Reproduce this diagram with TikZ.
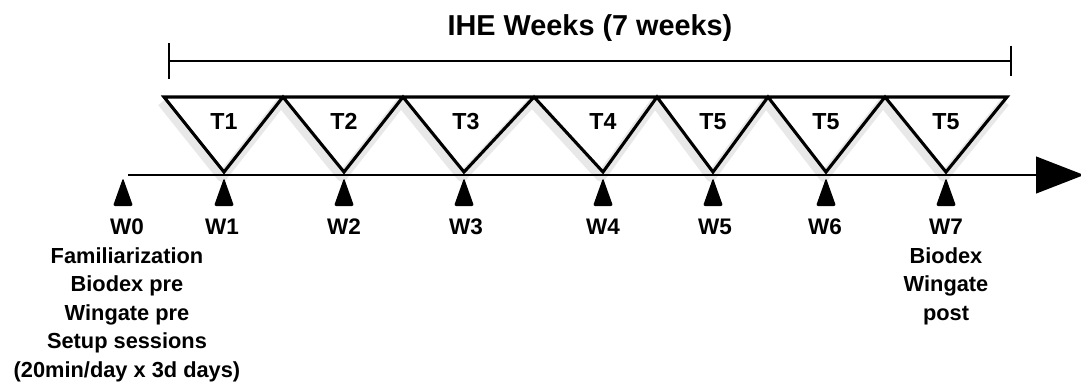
\documentclass[tikz,border=0pt]{standalone}
\usepackage{fontspec}
\setmainfont{Liberation Sans}
\usetikzlibrary{positioning}
\usetikzlibrary{arrows.meta}

\tikzset{
  heading/.style={font=\bfseries\fontsize{20.5}{24}\selectfont, inner sep=0pt},
  tlabel/.style={font=\bfseries\fontsize{16.5}{20}\selectfont, inner sep=0pt, anchor=base},
  wlabel/.style={font=\bfseries\fontsize{16}{20}\selectfont, inner sep=0pt, anchor=base},
  notes/.style={font=\bfseries\fontsize{15.5}{20.3}\selectfont, inner sep=0pt, align=center},
  zig/.style={line width=2.2pt, line join=miter},
  zigshadow/.style={line width=7pt, gray!18, line join=round},
  marker/.style={fill=black, rounded corners=1.5},
}

\begin{document}
\begin{tikzpicture}[x=0.025cm, y=-0.025cm]
\useasboundingbox (0,0) rectangle (1081,383);

%---------------------------------------
% Shared values
%---------------------------------------
\def\Ytop{97}     % top edge of the training triangles
\def\Ybot{172}    % lower vertices
\def\Yline{175}   % time axis
\def\Ybar{61}     % IHE bracket

%====================================================
% IHE bracket and heading
%====================================================
\node[heading] (title) at (590,28) {IHE Weeks (7 weeks)};

\coordinate (barL) at (168,\Ybar);
\coordinate (barR) at (1012,\Ybar);
\draw[line width=1.4pt, {Bar[width=25pt]}-{Bar[width=22pt]}] (barL) -- (barR);

%====================================================
% Training blocks T1 ... T5
%====================================================
% soft shadow of the scan, below the zig-zag
\begin{scope}[shift={(-2,5)}]
\draw[zigshadow]
  (164,\Ytop) -- (224,\Ybot) -- (283,\Ytop) -- (344,\Ybot) -- (403,\Ytop)
  -- (464,\Ybot) -- (534,\Ytop) -- (603,\Ybot) -- (657,\Ytop) -- (713,\Ybot)
  -- (768,\Ytop) -- (826,\Ybot) -- (885,\Ytop) -- (946,\Ybot) -- (1007,\Ytop);
\end{scope}

\draw[zig]
  (164,\Ytop) -- (224,\Ybot) -- (283,\Ytop) -- (344,\Ybot) -- (403,\Ytop)
  -- (464,\Ybot) -- (534,\Ytop) -- (603,\Ybot) -- (657,\Ytop) -- (713,\Ybot)
  -- (768,\Ytop) -- (826,\Ybot) -- (885,\Ytop) -- (946,\Ybot) -- (1007,\Ytop)
  -- cycle;

\node[tlabel] (t1) at (224,129) {T1};
\node[tlabel] (t2) at (344,129) {T2};
\node[tlabel] (t3) at (466,129) {T3};
\node[tlabel] (t4) at (603,129) {T4};
\node[tlabel] (t5) at (713,129) {T5};
\node[tlabel] (t6) at (826,129) {T5};
\node[tlabel] (t7) at (946,129) {T5};

%====================================================
% Time axis
%====================================================
\coordinate (axisL) at (128,\Yline);
\coordinate (axisR) at (1084,\Yline);
\draw[line width=1.5pt, -{Triangle[length=34pt, width=26pt]}] (axisL) -- (axisR);

% Week markers
\coordinate (m0) at (123,178);
\coordinate (m1) at (224,178);
\coordinate (m2) at (344,178);
\coordinate (m3) at (464,178);
\coordinate (m4) at (603,178);
\coordinate (m5) at (713,178);
\coordinate (m6) at (826,178);
\coordinate (m7) at (946,178);

\fill[marker] (m0) -- ++(10,28) -- ++(-20,0) -- cycle;
\fill[marker] (m1) -- ++(10,28) -- ++(-20,0) -- cycle;
\fill[marker] (m2) -- ++(10,28) -- ++(-20,0) -- cycle;
\fill[marker] (m3) -- ++(10,28) -- ++(-20,0) -- cycle;
\fill[marker] (m4) -- ++(10,28) -- ++(-20,0) -- cycle;
\fill[marker] (m5) -- ++(10,28) -- ++(-20,0) -- cycle;
\fill[marker] (m6) -- ++(10,28) -- ++(-20,0) -- cycle;
\fill[marker] (m7) -- ++(10,28) -- ++(-20,0) -- cycle;

% Week labels
\node[wlabel] (w0) at (127,234) {W0};
\node[wlabel] (w1) at (222,234) {W1};
\node[wlabel] (w2) at (344,234) {W2};
\node[wlabel] (w3) at (466,234) {W3};
\node[wlabel] (w4) at (603,234) {W4};
\node[wlabel] (w5) at (715,234) {W5};
\node[wlabel] (w6) at (825,234) {W6};
\node[wlabel] (w7) at (946,234) {W7};

% Test sessions
\node[notes, below=9pt of w0] (pre)
  {Familiarization\\Biodex pre\\Wingate pre\\Setup sessions\\(20min/day x 3d days)};
\node[notes, below=9pt of w7] (post)
  {Biodex\\Wingate\\post};

\end{tikzpicture}
\end{document}
